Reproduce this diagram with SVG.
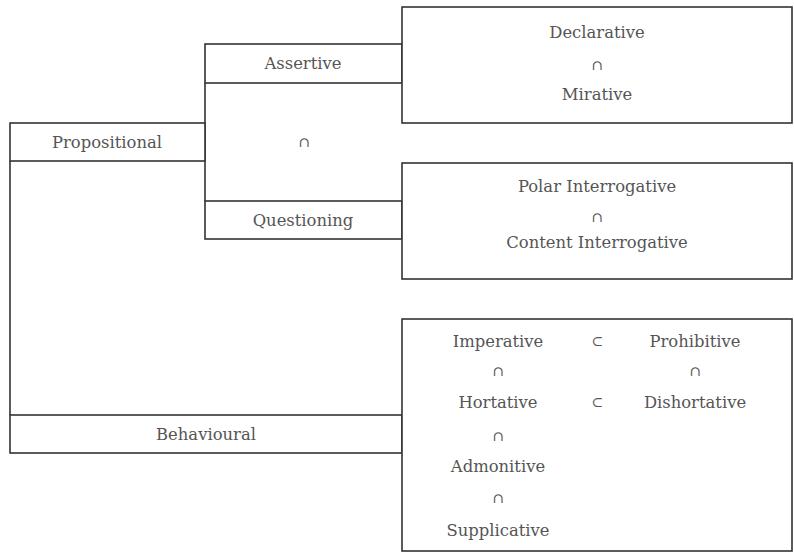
<svg xmlns="http://www.w3.org/2000/svg" width="794" height="554" viewBox="0 0 794 554">
<style>
.b{fill:#fff;stroke:#333;stroke-width:1.6}
.l{fill:none;stroke:#333;stroke-width:1.6}
text{font-family:"DejaVu Serif","Liberation Serif",serif;font-size:16.4px;fill:#555;text-anchor:middle;dominant-baseline:central}
.s{font-size:14px}
</style>
<rect width="794" height="554" fill="#fff"/>
<g id="connectors">
<line class="l" x1="205" y1="83" x2="205" y2="201"/>
<line class="l" x1="10" y1="161" x2="10" y2="415"/>
<text class="s" x="304" y="142">∩</text>
</g>
<g id="propositional"><rect class="b" x="10" y="123" width="195" height="38"/><text x="107" y="142">Propositional</text></g>
<g id="assertive"><rect class="b" x="205" y="44" width="197" height="39"/><text x="303" y="63">Assertive</text></g>
<g id="questioning"><rect class="b" x="205" y="201" width="197" height="38"/><text x="303" y="220">Questioning</text></g>
<g id="behavioural"><rect class="b" x="10" y="415" width="392" height="38"/><text x="206" y="434">Behavioural</text></g>
<g id="assertive-types"><rect class="b" x="402" y="7" width="390" height="116"/>
<text x="597" y="32">Declarative</text><text class="s" x="597" y="65">∩</text><text x="597" y="94">Mirative</text></g>
<g id="questioning-types"><rect class="b" x="402" y="163" width="390" height="116"/>
<text x="597" y="186">Polar Interrogative</text><text class="s" x="597" y="217">∩</text><text x="597" y="242">Content Interrogative</text></g>
<g id="behavioural-types"><rect class="b" x="402" y="319" width="390" height="232"/>
<text x="498" y="341">Imperative</text><text class="s" x="597" y="341">⊂</text><text x="695" y="341">Prohibitive</text>
<text class="s" x="498" y="371">∩</text><text class="s" x="695" y="371">∩</text>
<text x="498" y="402">Hortative</text><text class="s" x="597" y="402">⊂</text><text x="695" y="402">Dishortative</text>
<text class="s" x="498" y="436">∩</text>
<text x="498" y="466">Admonitive</text>
<text class="s" x="498" y="498">∩</text>
<text x="498" y="530">Supplicative</text></g>
</svg>
